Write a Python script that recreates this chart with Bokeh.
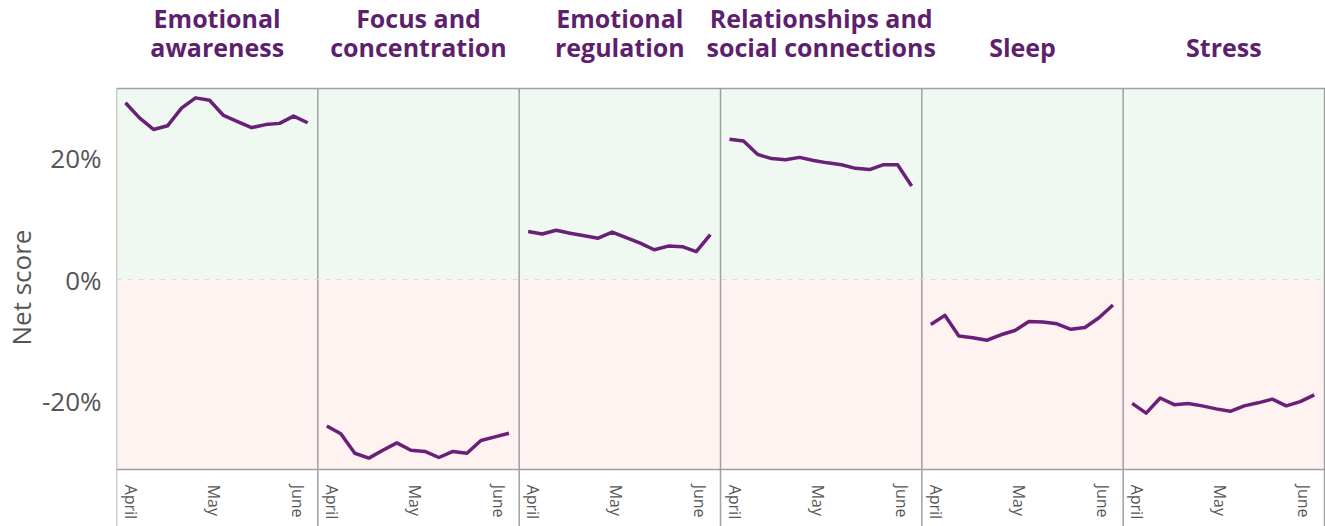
from bokeh.plotting import figure
from bokeh.models import Range1d, FixedTicker, LinearAxis, Span, BoxAnnotation, Title
from bokeh.core.properties import value
from bokeh.embed import file_html
from bokeh.resources import INLINE

# ---------------- data ----------------
panel_titles = [
    ["Emotional", "awareness"],
    ["Focus and", "concentration"],
    ["Emotional", "regulation"],
    ["Relationships and", "social connections"],
    ["", "Sleep"],
    ["", "Stress"],
]
emotional_awareness = [29.1, 26.6, 24.7, 25.3, 28.2, 29.9, 29.5, 27.0, 26.0, 25.0, 25.5, 25.7, 26.9, 25.8]
focus_concentration = [-24.1, -25.4, -28.6, -29.4, -28.1, -26.9, -28.1, -28.3, -29.3, -28.3, -28.6, -26.5, -25.9, -25.3]
emotional_regulation = [7.9, 7.5, 8.1, 7.6, 7.2, 6.8, 7.8, 6.9, 6.0, 4.9, 5.5, 5.4, 4.6, 7.4]
relationships = [23.1, 22.8, 20.6, 19.9, 19.7, 20.1, 19.6, 19.2, 18.9, 18.3, 18.1, 18.9, 18.9, 15.4]
sleep = [-7.4, -5.9, -9.3, -9.6, -10.0, -9.1, -8.4, -6.9, -7.0, -7.3, -8.2, -7.9, -6.3, -4.2]
stress = [-20.4, -22.0, -19.5, -20.6, -20.4, -20.8, -21.3, -21.7, -20.8, -20.3, -19.7, -20.8, -20.1, -19.0]
series = [emotional_awareness, focus_concentration, emotional_regulation, relationships, sleep, stress]
period = list(range(14))
month_ticks = [0.36, 6.3, 12.3]
month_labels = ["April", "May", "June"]
y_ticks = [-20, 0, 20]
y_labels = ["-20%", "0%", "20%"]
y_title = "Net score"

# ---------------- layout / styling ----------------
PX = 6.075                     # px per percentage point
Y_END = 279 / PX               # canvas top
Y_START = -(526 - 279) / PX    # canvas bottom
Y_TOP = 31.44                  # top of panels
Y_FLOOR = -31.3                # bottom of panels
X_START = -0.64
PANEL = 14.37                  # width of one panel in x units
N = len(series)
X_END = X_START + N * PANEL + 0.07
TITLE1_Y = (279 - 17) / PX
TITLE2_Y = (279 - 46) / PX

GRID = "#a0a0a0"
PURPLE_TXT = "#5e1f6f"
LINE = "#6a1f79"
GREEN = "#eff9f1"
PINK = "#fef3f1"
TEXT = "#555555"
FONT = "Open Sans"

p = figure(width=1325, height=526,
           x_range=Range1d(X_START, X_END), y_range=Range1d(Y_START, Y_END),
           x_axis_location=None, y_axis_location="left",
           toolbar_location=None, output_backend="svg",
           min_border_left=116, min_border_right=0, min_border_top=0, min_border_bottom=0)
p.outline_line_color = None
p.background_fill_color = "white"
p.border_fill_color = "white"
p.xgrid.visible = False
p.ygrid.visible = False

# panel backgrounds and rules
p.add_layout(BoxAnnotation(bottom=0, top=Y_TOP, fill_color=GREEN, fill_alpha=1,
                           line_color=None, level="underlay"))
p.add_layout(BoxAnnotation(bottom=Y_FLOOR, top=0, fill_color=PINK, fill_alpha=1,
                           line_color=None, level="underlay"))
p.add_layout(Span(location=0, dimension="width", line_color="#dcdcdc",
                  line_dash="5 6", line_width=1))
p.add_layout(Span(location=Y_TOP, dimension="width", line_color=GRID, line_width=1.5))
bounds = [X_START + k * PANEL for k in range(N + 1)]
p.segment(x0=bounds, y0=[Y_START] * len(bounds), x1=bounds, y1=[Y_TOP] * len(bounds),
          line_color=GRID, line_width=1.5)

# x axis (inside the frame, at the bottom of the panels)
tick_pos, tick_lab = [], []
for k in range(N):
    for t, lab in zip(month_ticks, month_labels):
        tick_pos.append(k * PANEL + t)
        tick_lab.append(lab)
xaxis = LinearAxis(fixed_location=Y_FLOOR, ticker=FixedTicker(ticks=tick_pos),
                   major_label_overrides=dict(zip(tick_pos, tick_lab)),
                   major_label_orientation="vertical",
                   axis_line_color=GRID, axis_line_width=1.5,
                   major_tick_line_color=None, minor_tick_line_color=None,
                   major_label_text_font=FONT, major_label_text_font_size="16px",
                   major_label_text_color=TEXT, major_label_standoff=9)
p.add_layout(xaxis, "below")

# y axis
ya = p.yaxis[0]
ya.ticker = FixedTicker(ticks=y_ticks)
ya.major_label_overrides = dict(zip(y_ticks, y_labels))
ya.axis_line_color = None
ya.major_tick_line_color = None
ya.minor_tick_line_color = None
ya.major_label_text_font = FONT
ya.major_label_text_font_size = "26px"
ya.major_label_text_color = TEXT
ya.major_label_standoff = 9
side_title = Title(text=y_title, text_font=FONT, text_font_size="26px",
                   text_font_style="normal", text_color=TEXT, align="left",
                   standoff=0, offset=181)
p.add_layout(side_title, "left")

# panel titles
tx, ty, tt = [], [], []
for k, (l1, l2) in enumerate(panel_titles):
    cx = X_START + (k + 0.5) * PANEL
    if l1:
        tx.append(cx); ty.append(TITLE1_Y); tt.append(l1)
    tx.append(cx); ty.append(TITLE2_Y); tt.append(l2)
p.text(x=tx, y=ty, text=tt, text_font=value(FONT), text_font_size="25px",
       text_font_style="bold", text_color=PURPLE_TXT, text_align="center",
       text_baseline="alphabetic")

# series lines
for k, vals in enumerate(series):
    xs = [k * PANEL + d for d in period]
    p.line(xs, vals, line_color=LINE, line_width=3.5, line_join="round")

open("out.html", "w").write(file_html(p, INLINE))
